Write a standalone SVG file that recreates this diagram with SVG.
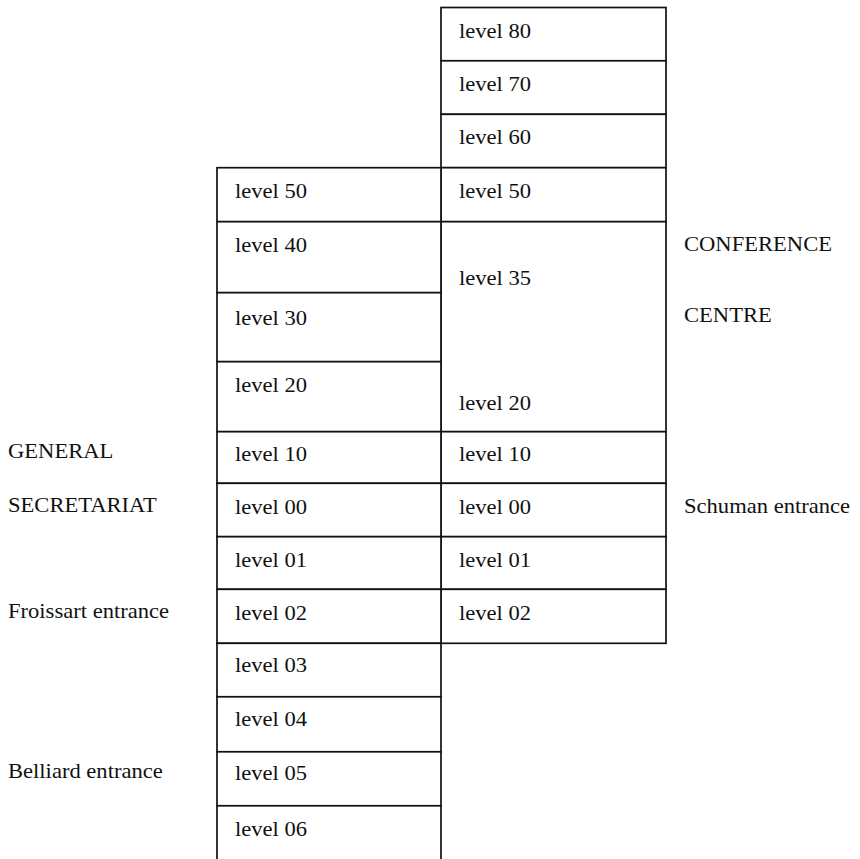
<svg xmlns="http://www.w3.org/2000/svg" width="860" height="859" viewBox="0 0 860 859">
<style>
.box{fill:#fff;stroke:#111;stroke-width:1.7}
.t{font-family:"Liberation Serif","Times New Roman",serif;font-size:21px;fill:#111}
</style>
<rect x="0" y="0" width="860" height="859" fill="#fff"/>
<g id="conference-centre">
<g id="cc-80"><rect class="box" x="441" y="7.5" width="225" height="53.3"/><text class="t" transform="translate(459,38) scale(1.075,1)">level 80</text></g>
<g id="cc-70"><rect class="box" x="441" y="60.8" width="225" height="53.5"/><text class="t" transform="translate(459,91) scale(1.075,1)">level 70</text></g>
<g id="cc-60"><rect class="box" x="441" y="114.3" width="225" height="53.4"/><text class="t" transform="translate(459,144) scale(1.075,1)">level 60</text></g>
<g id="cc-50"><rect class="box" x="441" y="167.7" width="225" height="54"/><text class="t" transform="translate(459,198) scale(1.075,1)">level 50</text></g>
<g id="cc-35-20"><rect class="box" x="441" y="221.7" width="225" height="210"/><text class="t" transform="translate(459,285) scale(1.075,1)">level 35</text><text class="t" transform="translate(459,410) scale(1.075,1)">level 20</text></g>
<g id="cc-10"><rect class="box" x="441" y="431.7" width="225" height="51.6"/><text class="t" transform="translate(459,461) scale(1.075,1)">level 10</text></g>
<g id="cc-00"><rect class="box" x="441" y="483.3" width="225" height="53.4"/><text class="t" transform="translate(459,514) scale(1.075,1)">level 00</text></g>
<g id="cc-01"><rect class="box" x="441" y="536.7" width="225" height="52.6"/><text class="t" transform="translate(459,567) scale(1.075,1)">level 01</text></g>
<g id="cc-02"><rect class="box" x="441" y="589.3" width="225" height="54"/><text class="t" transform="translate(459,620) scale(1.075,1)">level 02</text></g>
</g>
<g id="general-secretariat">
<g id="gs-50"><rect class="box" x="217" y="167.7" width="224" height="54"/><text class="t" transform="translate(235,198) scale(1.075,1)">level 50</text></g>
<g id="gs-40"><rect class="box" x="217" y="221.7" width="224" height="71"/><text class="t" transform="translate(235,252) scale(1.075,1)">level 40</text></g>
<g id="gs-30"><rect class="box" x="217" y="292.7" width="224" height="69"/><text class="t" transform="translate(235,325) scale(1.075,1)">level 30</text></g>
<g id="gs-20"><rect class="box" x="217" y="361.7" width="224" height="70"/><text class="t" transform="translate(235,392) scale(1.075,1)">level 20</text></g>
<g id="gs-10"><rect class="box" x="217" y="431.7" width="224" height="51.6"/><text class="t" transform="translate(235,461) scale(1.075,1)">level 10</text></g>
<g id="gs-00"><rect class="box" x="217" y="483.3" width="224" height="53.4"/><text class="t" transform="translate(235,514) scale(1.075,1)">level 00</text></g>
<g id="gs-01"><rect class="box" x="217" y="536.7" width="224" height="52.6"/><text class="t" transform="translate(235,567) scale(1.075,1)">level 01</text></g>
<g id="gs-02"><rect class="box" x="217" y="589.3" width="224" height="54"/><text class="t" transform="translate(235,620) scale(1.075,1)">level 02</text></g>
<g id="gs-03"><rect class="box" x="217" y="643.3" width="224" height="53.5"/><text class="t" transform="translate(235,672) scale(1.075,1)">level 03</text></g>
<g id="gs-04"><rect class="box" x="217" y="696.8" width="224" height="55"/><text class="t" transform="translate(235,726) scale(1.075,1)">level 04</text></g>
<g id="gs-05"><rect class="box" x="217" y="751.8" width="224" height="54"/><text class="t" transform="translate(235,780) scale(1.075,1)">level 05</text></g>
<g id="gs-06"><rect class="box" x="217" y="805.8" width="224" height="56"/><text class="t" transform="translate(235,836) scale(1.075,1)">level 06</text></g>
</g>
<g id="connectors"></g>
<g id="labels">
<text class="t" transform="translate(8,458) scale(1.075,1)">GENERAL</text>
<text class="t" transform="translate(8,512) scale(1.075,1)">SECRETARIAT</text>
<text class="t" transform="translate(8,618) scale(1.075,1)">Froissart entrance</text>
<text class="t" transform="translate(8,778) scale(1.075,1)">Belliard entrance</text>
<text class="t" transform="translate(684,251) scale(1.075,1)">CONFERENCE</text>
<text class="t" transform="translate(684,322) scale(1.075,1)">CENTRE</text>
<text class="t" transform="translate(684,513) scale(1.075,1)">Schuman entrance</text>
</g>
</svg>
